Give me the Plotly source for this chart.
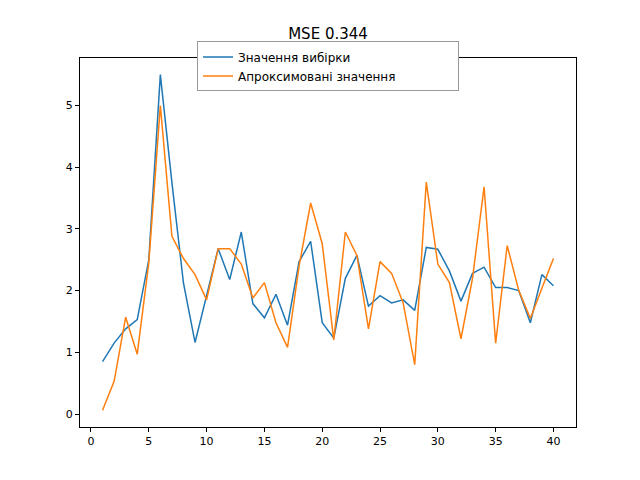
import plotly.graph_objects as go

x = list(range(1, 41))
sample = [0.85, 1.15, 1.38, 1.53, 2.5, 5.5, 3.75, 2.12, 1.16, 1.9,
          2.68, 2.18, 2.95, 1.79, 1.56, 1.94, 1.44, 2.47, 2.8, 1.48,
          1.23, 2.2, 2.57, 1.75, 1.92, 1.8, 1.85, 1.68, 2.7, 2.67,
          2.32, 1.83, 2.28, 2.38, 2.05, 2.05, 2.0, 1.48, 2.26, 2.08]
approx = [0.06, 0.53, 1.57, 0.97, 2.45, 5.0, 2.88, 2.52, 2.26, 1.85,
          2.68, 2.68, 2.43, 1.88, 2.13, 1.48, 1.08, 2.4, 3.42, 2.76,
          1.2, 2.95, 2.57, 1.38, 2.47, 2.28, 1.8, 0.8, 3.76, 2.43,
          2.13, 1.22, 2.2, 3.68, 1.15, 2.73, 2.0, 1.55, 2.04, 2.52]

fig = go.Figure()
fig.add_trace(go.Scatter(x=x, y=sample, mode="lines", name="Значення вибірки",
                         line=dict(color="#1f77b4", width=1.5)))
fig.add_trace(go.Scatter(x=x, y=approx, mode="lines", name="Апроксимовані значення",
                         line=dict(color="#ff7f0e", width=1.5)))

axis = dict(showgrid=False, zeroline=False, showline=True, mirror=True,
            linecolor="black", linewidth=1, ticks="outside", ticklen=4,
            tickcolor="black", tickfont=dict(size=11, color="black"))
fig.update_layout(
    width=640, height=480,
    margin=dict(l=72, r=72, t=50, b=61),
    paper_bgcolor="white", plot_bgcolor="white",
    font=dict(family="DejaVu Sans", color="black"),
    title=dict(text="MSE 0.344", x=0.5, xanchor="center", y=0.958, font=dict(size=15)),
    xaxis=dict(range=[-0.95, 41.95], tickvals=[0, 5, 10, 15, 20, 25, 30, 35, 40], **axis),
    yaxis=dict(range=[-0.21, 5.77], tickvals=[0, 1, 2, 3, 4, 5], **axis),
    legend=dict(orientation="h", x=0.5, xanchor="center", y=1.045, yanchor="top",
                bgcolor="white", bordercolor="#999999", borderwidth=1,
                font=dict(size=12), itemwidth=30, entrywidth=215),
    showlegend=True,
)
fig.write_html("out.html")
